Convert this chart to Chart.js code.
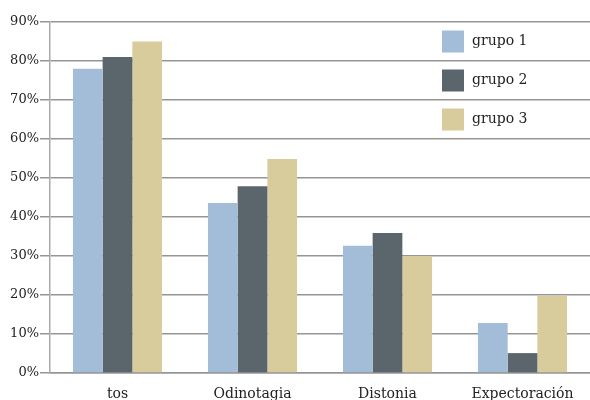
<!DOCTYPE html>
<html>
<head>
<meta charset="utf-8">
<script src="https://cdn.jsdelivr.net/npm/chart.js@4/dist/chart.umd.min.js"></script>
<style>
html,body{margin:0;padding:0;background:#fff;}
#wrap{width:590px;height:400px;}
</style>
</head>
<body>
<div id="wrap"><canvas id="c" width="590" height="400"></canvas></div>
<script>
const categories = ["tos", "Odinotagia", "Distonia", "Expectoración"];
const seriesNames = ["grupo 1", "grupo 2", "grupo 3"];
const grupo1 = [78, 43.6, 32.6, 12.8];
const grupo2 = [81, 47.9, 35.9, 5.1];
const grupo3 = [85, 54.9, 30, 19.8];
const yTicks = [0, 10, 20, 30, 40, 50, 60, 70, 80, 90];
const colors = ["#a3bcd7", "#5a656c", "#d8cc9c"];

const FONT = "'DejaVu Serif', serif";

const legendPlugin = {
  id: 'customLegend',
  afterDraw(chart) {
    const ctx = chart.ctx;
    const ys = chart.scales.y;
    ctx.save();
    chart.data.datasets.forEach((ds, i) => {
      const yTop = ys.getPixelForValue(90 - i * 10);
      const yBot = ys.getPixelForValue(80 - i * 10);
      const cy = (yTop + yBot) / 2;
      ctx.fillStyle = ds.backgroundColor;
      ctx.fillRect(442, cy - 11, 22, 22);
      ctx.fillStyle = '#222';
      ctx.font = "14px " + FONT;
      ctx.textBaseline = 'middle';
      ctx.textAlign = 'left';
      ctx.fillText(ds.label, 472, cy);
    });
    ctx.restore();
  }
};

new Chart(document.getElementById('c'), {
  type: 'bar',
  data: {
    labels: categories,
    datasets: [
      { label: seriesNames[0], data: grupo1, backgroundColor: colors[0] },
      { label: seriesNames[1], data: grupo2, backgroundColor: colors[1] },
      { label: seriesNames[2], data: grupo3, backgroundColor: colors[2] }
    ]
  },
  options: {
    responsive: false,
    animation: false,
    devicePixelRatio: 1,
    layout: { padding: { top: 22, right: 0, left: 0, bottom: 0 } },
    datasets: { bar: { categoryPercentage: 0.66, barPercentage: 1.0, borderWidth: 0 } },
    plugins: { legend: { display: false }, tooltip: { enabled: false } },
    scales: {
      x: {
        grid: { display: false, drawTicks: false },
        border: { display: true, color: '#959595', width: 1.5 },
        ticks: { color: '#222', font: { family: FONT, size: 14 }, padding: 13, maxRotation: 0 },
        afterFit(s) { s.height = 27; }
      },
      y: {
        min: 0, max: 90,
        afterBuildTicks(s) { s.ticks = yTicks.map(v => ({ value: v })); },
        grid: { color: '#959595', lineWidth: 1.5, tickLength: 10, drawTicks: true, tickColor: '#959595' },
        border: { display: true, color: '#aaaaaa', width: 1.5 },
        ticks: { color: '#222', font: { family: FONT, size: 13 }, padding: 1, callback: v => v + '%' },
        afterFit(s) { s.width = 50; }
      }
    }
  },
  plugins: [legendPlugin]
});
</script>
</body>
</html>
